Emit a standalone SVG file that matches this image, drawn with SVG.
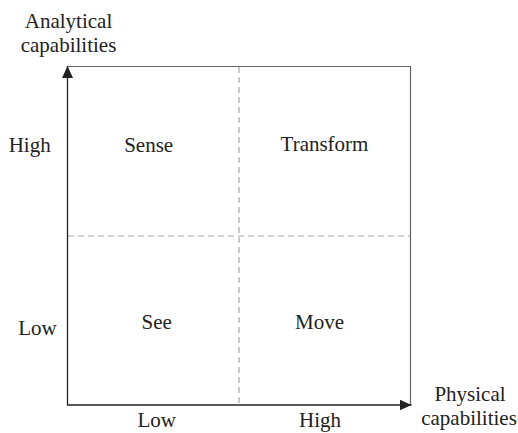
<svg xmlns="http://www.w3.org/2000/svg" width="518" height="433" viewBox="0 0 518 433">
<style>
text{font-family:"Liberation Serif","Times New Roman",serif;font-size:21px;fill:#222;text-anchor:middle}
.frame{stroke:#666;stroke-width:1.2;fill:none}
.dash{stroke:#aaa;stroke-width:1.2;stroke-dasharray:6,4;fill:none}
.axis{stroke:#222;stroke-width:1.3;fill:none}
</style>
<defs>
<marker id="arr" viewBox="0 0 12 11" refX="12" refY="5.5" markerWidth="12" markerHeight="11" markerUnits="userSpaceOnUse" orient="auto">
<path d="M0,0 L12,5.5 L0,11 Z" fill="#222"/>
</marker>
</defs>
<rect width="518" height="433" fill="#fff"/>
<g id="frame">
<path class="frame" d="M68,66.5 H410.5 V405"/>
<path class="dash" d="M239,67 V405"/>
<path class="dash" d="M68,236 H410"/>
</g>
<g id="connectors">
<path class="axis" d="M67.5,405 V66" marker-end="url(#arr)"/>
<path class="axis" d="M67,405 H411.5" marker-end="url(#arr)"/>
</g>
<g id="y-axis-label"><text x="68.5" y="27.5">Analytical</text><text x="68.5" y="52">capabilities</text></g>
<g id="x-axis-label"><text x="470" y="401">Physical</text><text x="469" y="425">capabilities</text></g>
<g id="y-high"><text x="29.7" y="152">High</text></g>
<g id="y-low"><text x="37.5" y="335">Low</text></g>
<g id="x-low"><text x="156.7" y="427">Low</text></g>
<g id="x-high"><text x="320" y="427">High</text></g>
<g id="sense"><text x="148.7" y="151.5">Sense</text></g>
<g id="transform"><text x="324.5" y="151">Transform</text></g>
<g id="see"><text x="156.7" y="328.5">See</text></g>
<g id="move"><text x="319.5" y="328.5">Move</text></g>
</svg>
